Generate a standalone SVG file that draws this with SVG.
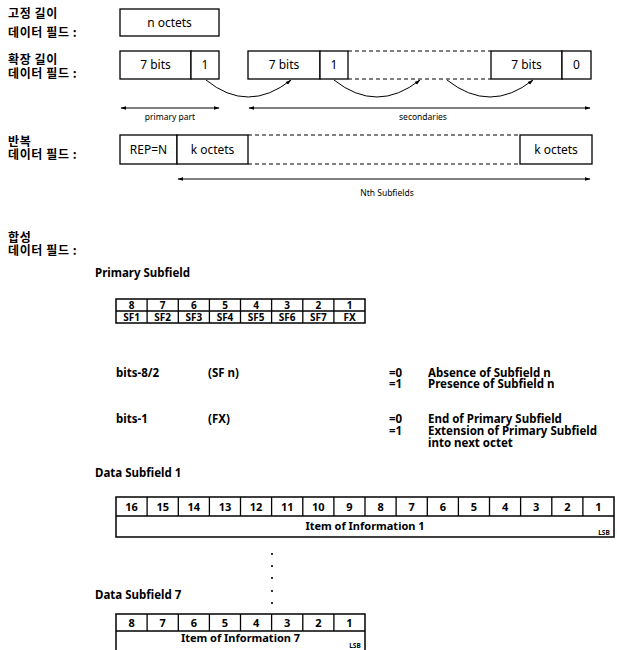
<svg xmlns="http://www.w3.org/2000/svg" width="617" height="650" viewBox="0 0 617 650">
<style>
text{font-family:"Noto Sans","Noto Sans CJK KR",sans-serif;fill:#000}
.lbl{font-family:"Noto Sans CJK KR","Noto Sans",sans-serif;font-weight:bold;font-size:12px;letter-spacing:0.6px}
.box{fill:#fff;stroke:#000;stroke-width:1.3}
.cell{font-size:12px;text-anchor:middle}
.small{font-size:8.5px;text-anchor:middle}
.dash{stroke:#000;stroke-width:1;stroke-dasharray:4,3;fill:none}
.tb{fill:#fff;stroke:#000;stroke-width:1.5}
.tl{stroke:#000;stroke-width:1.3}
.b{font-weight:bold;font-size:11.5px}
.conn{fill:none;stroke:#000;stroke-width:1}
</style>
<defs>
<marker id="ah" viewBox="0 0 10 10" refX="9" refY="5" markerWidth="6" markerHeight="6" orient="auto-start-reverse"><path d="M0,2 L10,5 L0,8 z" fill="#000"/></marker>
</defs>

<g id="labels">
<text class="lbl" x="8" y="18">고정 길이</text>
<text class="lbl" x="8" y="37">데이터 필드  :</text>
<text class="lbl" x="8" y="64">확장 길이</text>
<text class="lbl" x="8" y="78">데이터 필드 :</text>
<text class="lbl" x="8" y="146">반복</text>
<text class="lbl" x="8" y="159">데이터 필드 :</text>
<text class="lbl" x="8" y="242">합성</text>
<text class="lbl" x="8" y="255">데이터 필드 :</text>
</g>

<g id="fixed">
<rect class="box" x="120" y="9" width="99" height="27"/>
<text class="cell" x="169.5" y="27">n octets</text>
</g>

<g id="extended">
<rect class="box" x="120" y="51" width="71" height="28"/>
<text class="cell" x="155.5" y="69">7 bits</text>
<rect class="box" x="191" y="51" width="28" height="28"/>
<text class="cell" x="205" y="69">1</text>
<rect class="box" x="248" y="51" width="72" height="28"/>
<text class="cell" x="284" y="69">7 bits</text>
<rect class="box" x="320" y="51" width="28" height="28"/>
<text class="cell" x="334" y="69">1</text>
<line class="dash" x1="348" y1="51" x2="491" y2="51"/>
<line class="dash" x1="348" y1="79" x2="491" y2="79"/>
<rect class="box" x="491" y="51" width="71" height="28"/>
<text class="cell" x="526.5" y="69">7 bits</text>
<rect class="box" x="562" y="51" width="29" height="28"/>
<text class="cell" x="576.5" y="69">0</text>
<text class="small" x="170" y="120">primary part</text>
<text class="small" x="423" y="120">secondaries</text>
</g>

<g id="repetitive">
<rect class="box" x="120" y="135" width="57" height="29"/>
<text class="cell" x="148.5" y="154">REP=N</text>
<rect class="box" x="177" y="135" width="71" height="29"/>
<text class="cell" x="212.5" y="154">k octets</text>
<line class="dash" x1="248" y1="135" x2="520" y2="135"/>
<line class="dash" x1="248" y1="164" x2="520" y2="164"/>
<rect class="box" x="520" y="135" width="72" height="29"/>
<text class="cell" x="556" y="154">k octets</text>
<text class="small" x="387" y="196">Nth Subfields</text>
</g>

<g id="connectors">
<path class="conn" d="M206,80 Q248,114 291,80" marker-end="url(#ah)"/>
<path class="conn" d="M334,80 Q377,114 420,80" marker-end="url(#ah)"/>
<path class="conn" d="M447,80 Q490,114 533,80" marker-end="url(#ah)"/>
<line class="conn" x1="121" y1="108" x2="219" y2="108" marker-start="url(#ah)" marker-end="url(#ah)"/>
<line class="conn" x1="249" y1="108" x2="590" y2="108" marker-start="url(#ah)" marker-end="url(#ah)"/>
<line class="conn" x1="178" y1="179" x2="590" y2="179" marker-start="url(#ah)" marker-end="url(#ah)"/>
</g>

<g id="primary-subfield">
<text class="b" x="95" y="277">Primary Subfield</text>
<rect class="tb" x="116" y="299" width="249" height="24"/>
<line class="tl" x1="116" y1="311" x2="365" y2="311"/>
<g class="tl">
<line x1="147.1" y1="299" x2="147.1" y2="323"/>
<line x1="178.3" y1="299" x2="178.3" y2="323"/>
<line x1="209.4" y1="299" x2="209.4" y2="323"/>
<line x1="240.5" y1="299" x2="240.5" y2="323"/>
<line x1="271.6" y1="299" x2="271.6" y2="323"/>
<line x1="302.8" y1="299" x2="302.8" y2="323"/>
<line x1="333.9" y1="299" x2="333.9" y2="323"/>
</g>
<g font-size="10" font-weight="bold" text-anchor="middle">
<text x="131.6" y="309">8</text><text x="162.7" y="309">7</text><text x="193.8" y="309">6</text><text x="225" y="309">5</text>
<text x="256.1" y="309">4</text><text x="287.2" y="309">3</text><text x="318.3" y="309">2</text><text x="349.5" y="309">1</text>
<text x="131.6" y="321">SF1</text><text x="162.7" y="321">SF2</text><text x="193.8" y="321">SF3</text><text x="225" y="321">SF4</text>
<text x="256.1" y="321">SF5</text><text x="287.2" y="321">SF6</text><text x="318.3" y="321">SF7</text><text x="349.5" y="321">FX</text>
</g>
</g>

<g id="legend">
<text class="b" x="116" y="377">bits-8/2</text>
<text class="b" x="208" y="377">(SF n)</text>
<text class="b" x="389" y="377">=0</text>
<text class="b" x="428" y="377">Absence of Subfield n</text>
<text class="b" x="389" y="388">=1</text>
<text class="b" x="428" y="388">Presence of Subfield n</text>
<text class="b" x="116" y="423">bits-1</text>
<text class="b" x="208" y="423">(FX)</text>
<text class="b" x="389" y="423">=0</text>
<text class="b" x="428" y="423">End of Primary Subfield</text>
<text class="b" x="389" y="435">=1</text>
<text class="b" x="428" y="435">Extension of Primary Subfield</text>
<text class="b" x="428" y="447">into next octet</text>
</g>

<g id="data-subfield-1">
<text class="b" x="95" y="477">Data Subfield 1</text>
<rect class="tb" x="116" y="497" width="498" height="40"/>
<line class="tl" x1="116" y1="516" x2="614" y2="516"/>
<g class="tl">
<line x1="147.1" y1="497" x2="147.1" y2="516"/><line x1="178.3" y1="497" x2="178.3" y2="516"/>
<line x1="209.4" y1="497" x2="209.4" y2="516"/><line x1="240.5" y1="497" x2="240.5" y2="516"/>
<line x1="271.6" y1="497" x2="271.6" y2="516"/><line x1="302.8" y1="497" x2="302.8" y2="516"/>
<line x1="333.9" y1="497" x2="333.9" y2="516"/><line x1="365" y1="497" x2="365" y2="516"/>
<line x1="396.1" y1="497" x2="396.1" y2="516"/><line x1="427.3" y1="497" x2="427.3" y2="516"/>
<line x1="458.4" y1="497" x2="458.4" y2="516"/><line x1="489.5" y1="497" x2="489.5" y2="516"/>
<line x1="520.6" y1="497" x2="520.6" y2="516"/><line x1="551.8" y1="497" x2="551.8" y2="516"/>
<line x1="582.9" y1="497" x2="582.9" y2="516"/>
</g>
<g font-size="11" font-weight="bold" text-anchor="middle">
<text x="131.6" y="511">16</text><text x="162.7" y="511">15</text><text x="193.8" y="511">14</text><text x="225" y="511">13</text>
<text x="256.1" y="511">12</text><text x="287.2" y="511">11</text><text x="318.3" y="511">10</text><text x="349.5" y="511">9</text>
<text x="380.6" y="511">8</text><text x="411.7" y="511">7</text><text x="442.8" y="511">6</text><text x="474" y="511">5</text>
<text x="505.1" y="511">4</text><text x="536.2" y="511">3</text><text x="567.3" y="511">2</text><text x="598.5" y="511">1</text>
<text x="365" y="530">Item of Information 1</text>
</g>
<text x="604" y="534.5" font-size="6.5" font-weight="bold" text-anchor="middle">LSB</text>
</g>

<g id="dots" fill="#000">
<circle cx="272" cy="554" r="1.1"/><circle cx="272" cy="566" r="1.1"/><circle cx="272" cy="578" r="1.1"/>
<circle cx="272" cy="591" r="1.1"/><circle cx="272" cy="603" r="1.1"/>
</g>

<g id="data-subfield-7">
<text class="b" x="95" y="599">Data Subfield 7</text>
<rect class="tb" x="116" y="614" width="249" height="40"/>
<line class="tl" x1="116" y1="631" x2="365" y2="631"/>
<g class="tl">
<line x1="147.1" y1="614" x2="147.1" y2="631"/><line x1="178.3" y1="614" x2="178.3" y2="631"/>
<line x1="209.4" y1="614" x2="209.4" y2="631"/><line x1="240.5" y1="614" x2="240.5" y2="631"/>
<line x1="271.6" y1="614" x2="271.6" y2="631"/><line x1="302.8" y1="614" x2="302.8" y2="631"/>
<line x1="333.9" y1="614" x2="333.9" y2="631"/>
</g>
<g font-size="11" font-weight="bold" text-anchor="middle">
<text x="131.6" y="627">8</text><text x="162.7" y="627">7</text><text x="193.8" y="627">6</text><text x="225" y="627">5</text>
<text x="256.1" y="627">4</text><text x="287.2" y="627">3</text><text x="318.3" y="627">2</text><text x="349.5" y="627">1</text>
<text x="240.5" y="642">Item of Information 7</text>
</g>
<text x="355" y="648" font-size="6.5" font-weight="bold" text-anchor="middle">LSB</text>
</g>
</svg>
